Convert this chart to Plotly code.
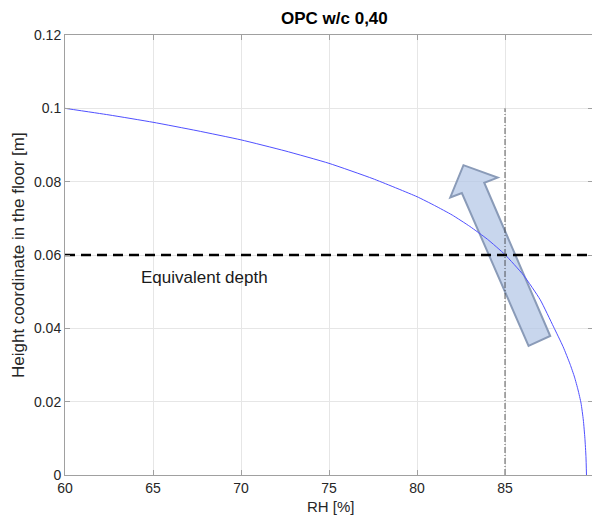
import plotly.graph_objects as go

# Curve: RH [%] vs height coordinate [m]
rh = [60, 62.5, 65, 67.5, 70, 72.5, 75, 77.5, 80, 81, 82, 83, 84, 85,
      86.05, 87, 87.76, 88.3, 88.7, 88.95, 89.15, 89.32, 89.45, 89.54, 89.6, 89.63]
height = [0.1000, 0.0982, 0.0962, 0.0939, 0.0914, 0.0884, 0.0850, 0.0808, 0.0759,
          0.0735, 0.0709, 0.0678, 0.0643, 0.0601, 0.0545, 0.0478, 0.0404, 0.0350,
          0.0302, 0.0267, 0.0232, 0.0196, 0.0150, 0.0100, 0.0050, 0.0]

equiv_depth = 0.06
rh_mark = 85
rh_mark_top = 0.1

# Arrow polygon (data coords)
arrow_x = [86.34, 87.57, 83.82, 84.58, 82.64, 81.89, 82.55]
arrow_y = [0.0352, 0.0379, 0.0797, 0.0811, 0.0845, 0.0757, 0.0769]

x_ticks = [60, 65, 70, 75, 80, 85, 90]
y_ticks = [0, 0.02, 0.04, 0.06, 0.08, 0.1, 0.12]
y_ticktext = ["0", "0.02", "0.04", "0.06", "0.08", "0.1", "0.12"]

font_family = "Arial, Liberation Sans, sans-serif"
label_color = "#262626"

fig = go.Figure()

fig.add_trace(go.Scatter(x=rh, y=height, mode="lines",
                         line=dict(color="#5050ff", width=1, shape="spline", smoothing=0.5),
                         showlegend=False))
fig.add_trace(go.Scatter(x=[60, 90], y=[equiv_depth, equiv_depth], mode="lines",
                         line=dict(color="black", width=2.5, dash="10px,6px"),
                         showlegend=False))
fig.add_trace(go.Scatter(x=[rh_mark, rh_mark], y=[0, rh_mark_top], mode="lines",
                         line=dict(color="#333333", width=0.8, dash="6px,2px,1px,2px"),
                         showlegend=False))

path = "M " + " L ".join(f"{x},{y}" for x, y in zip(arrow_x, arrow_y)) + " Z"
fig.add_shape(type="path", path=path, xref="x", yref="y", layer="between",
              fillcolor="rgba(176,196,230,0.7)", line=dict(color="#8a9bb8", width=2))

fig.add_annotation(x=67.9, y=0.054, text="Equivalent depth", showarrow=False,
                   font=dict(size=17, color="#1a1a1a", family=font_family))

# Axis titles and chart title (positioned relative to the plot area)
fig.add_annotation(x=0.504, y=0, xref="paper", yref="paper", yshift=-31,
                   xanchor="center", yanchor="middle", text="RH [%]", showarrow=False,
                   font=dict(size=15, color=label_color, family=font_family))
fig.add_annotation(x=0, y=0.5, xref="paper", yref="paper", xshift=-47,
                   xanchor="center", yanchor="middle", textangle=-90,
                   text="Height coordinate in the floor [m]", showarrow=False,
                   font=dict(size=17, color=label_color, family=font_family))
fig.add_annotation(x=0.5095, y=1, xref="paper", yref="paper", yshift=17,
                   text="<b>OPC w/c 0,40</b>", showarrow=False,
                   xanchor="center", yanchor="middle",
                   font=dict(size=17, color="black", family=font_family))

axis_common = dict(showgrid=True, gridcolor="#e6e6e6", gridwidth=1,
                   showline=True, linecolor="#a0a0a0", linewidth=1, mirror="ticks",
                   ticks="inside", ticklen=5, tickcolor="#a0a0a0",
                   tickfont=dict(size=14, color=label_color, family=font_family),
                   zeroline=False, automargin=False)

# The page places the figure 8px from the top-left corner of the window.
fig.update_layout(
    width=592, height=510,
    margin=dict(l=57, r=7, t=27, b=43),
    paper_bgcolor="white", plot_bgcolor="white",
    xaxis=dict(range=[60, 90], tickvals=x_ticks, **axis_common),
    yaxis=dict(range=[0, 0.12], tickvals=y_ticks, ticktext=y_ticktext, **axis_common),
)

fig.write_html("out.html")
